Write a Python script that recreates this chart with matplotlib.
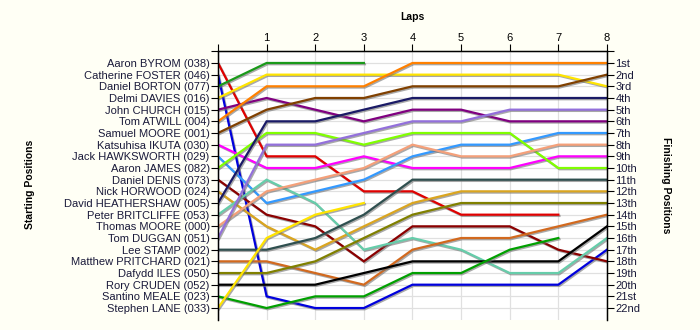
import matplotlib
matplotlib.use("Agg")
import matplotlib.pyplot as plt
import matplotlib.patheffects as pe

plt.rcParams['font.family'] = ['Liberation Sans', 'DejaVu Sans']

# drivers in grid order (lap 0 = starting position)
drivers = [
    "Aaron BYROM (038)", "Catherine FOSTER (046)", "Daniel BORTON (077)",
    "Delmi DAVIES (016)", "John CHURCH (015)", "Tom ATWILL (004)",
    "Samuel MOORE (001)", "Katsuhisa IKUTA (030)", "Jack HAWKSWORTH (029)",
    "Aaron JAMES (082)", "Daniel DENIS (073)", "Nick HORWOOD (024)",
    "David HEATHERSHAW (005)", "Peter BRITCLIFFE (053)", "Thomas MOORE (000)",
    "Tom DUGGAN (051)", "Lee STAMP (002)", "Matthew PRITCHARD (021)",
    "Dafydd ILES (050)", "Rory CRUDEN (052)", "Santino MEALE (023)",
    "Stephen LANE (033)",
]

# position at the end of each lap, list stops when the driver retired
positions = [
    [1, 9, 9, 12, 12, 14, 14, 14],
    [2, 21, 22, 22, 20, 20, 20, 20, 17],
    [3, 1, 1, 1],
    [4, 2, 2, 2, 2, 2, 2, 2, 3],
    [5, 4, 5, 6, 5, 5, 6, 6, 6],
    [6, 3, 3, 3, 1, 1, 1, 1, 1],
    [7, 5, 4, 4, 3, 3, 3, 3, 2],
    [8, 10, 10, 9, 10, 10, 10, 9, 9],
    [9, 13, 12, 11, 9, 8, 8, 7, 7],
    [10, 7, 7, 8, 7, 7, 7, 10, 10],
    [11, 14, 15, 18, 15, 15, 15, 17, 18],
    [12, 15, 17, 15, 13, 12, 12, 12, 12],
    [13, 6, 6, 5, 4, 4, 4, 4, 4],
    [14, 11, 13, 17, 16, 17, 19, 19, 16],
    [15, 12, 11, 10, 8, 9, 9, 8, 8],
    [16, 8, 8, 7, 6, 6, 5, 5, 5],
    [17, 17, 16, 14, 11, 11, 11, 11, 11],
    [18, 18, 19, 20, 17, 16, 16, 15, 14],
    [19, 19, 18, 16, 14, 13, 13, 13, 13],
    [20, 20, 20, 19, 18, 18, 18, 18, 15],
    [21, 22, 21, 21, 19, 19, 17, 16],
    [22, 16, 14, 13],
]

colors = [
    "#e00000", "#0000dd", "#1a9a1a", "#ffe400", "#800080", "#ff8000",
    "#804000", "#ff00ff", "#3399ff", "#80ff00", "#8b0000", "#daa520",
    "#1a1a66", "#66cdaa", "#f4a07a", "#9370db", "#2f4f4f", "#d2691e",
    "#808000", "#000000", "#00a000", "#ffe400",
]

finish_labels = ["1st", "2nd", "3rd"] + [f"{i}th" for i in range(4, 21)] + ["21st", "22nd"]
n_laps = 8
n_pos = len(drivers)

fig = plt.figure(figsize=(7, 3.3), dpi=100, facecolor="#fffff5")
ax = fig.add_axes([0.3114, 0.0312, 0.5557, 0.8133])
ax.set_facecolor("white")

for pos, col in zip(positions, colors):
    ax.plot(range(len(pos)), pos, color=col, lw=1.6, solid_joinstyle="miter",
            path_effects=[pe.SimpleLineShadow(offset=(0.8, -0.9), shadow_color="#707070", alpha=0.6),
                          pe.Normal()])

ax.set_xlim(0, n_laps)
ax.set_ylim(n_pos + 1, 0)

# laps along the top
ax.xaxis.tick_top()
ax.set_xticks(range(n_laps + 1))
ax.set_xticklabels([""] + [str(i) for i in range(1, n_laps + 1)], fontsize=8)
ax.tick_params(axis="x", length=5, pad=1, colors="black")

# starting grid on the left
ax.set_yticks(range(n_pos + 1))
ax.set_yticklabels([""] + drivers, fontsize=8, color="#1a1a3a")
ax.tick_params(axis="y", length=5, pad=1)

ax.grid(True, color="#e0e0e0", lw=0.9)
ax.set_axisbelow(True)

ax.spines["bottom"].set_visible(False)
for side in ("top", "left", "right"):
    ax.spines[side].set_linewidth(1.0)

# finishing order on the right
ax2 = ax.twinx()
ax2.set_ylim(n_pos + 1, 0)
ax2.set_yticks(range(n_pos + 1))
ax2.set_yticklabels([""] + finish_labels, fontsize=8, color="#1a1a3a")
ax2.tick_params(axis="y", length=5, pad=1)
ax2.spines["bottom"].set_visible(False)

fig.text(0.589, 0.948, "Laps", ha="center", va="center", fontsize=7.5, fontweight="bold")
fig.text(0.043, 0.44, "Starting Positions", ha="center", va="center", rotation=90,
         fontsize=7.5, fontweight="bold")
fig.text(0.952, 0.44, "Finishing Positions", ha="center", va="center", rotation=270,
         fontsize=7.5, fontweight="bold")

fig.savefig("out.png", dpi=100, facecolor=fig.get_facecolor())
